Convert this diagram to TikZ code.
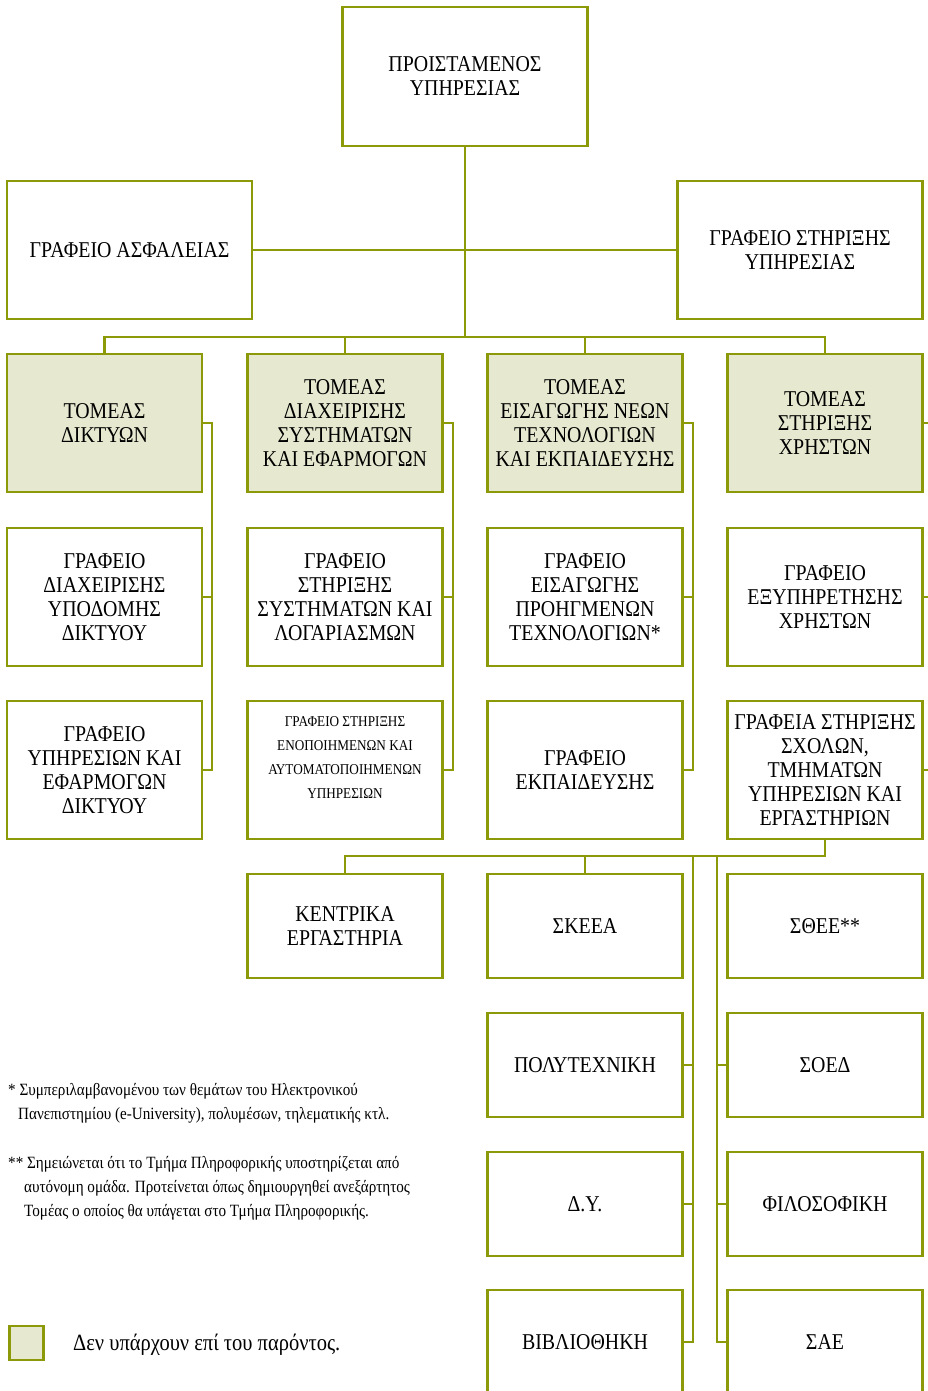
\documentclass[tikz,border=0pt]{standalone}
\usepackage{fontspec}
\setmainfont[FakeStretch=0.88]{Liberation Serif}
\definecolor{orgline}{RGB}{140,154,10}
\definecolor{orgfill}{RGB}{230,233,207}
\tikzset{
  box/.style={draw=orgline, line width=2.8pt, minimum width=195pt, minimum height=138pt,
    inner sep=0pt, align=center, text=black, font=\fontsize{22.6}{24}\selectfont,
    execute at begin node={\vspace*{5pt}}},
  wbox/.style={box, minimum width=245pt},
  tom/.style={box, fill=orgfill},
  sbox/.style={box, minimum height=104pt},
  conn/.style={draw=orgline, line width=2.6pt},
  note/.style={anchor=base west, inner sep=0pt, font=\fontsize{17.2}{24}\selectfont},
}
\begin{document}
\begin{tikzpicture}[x=1pt, y=-1pt]
\useasboundingbox (0,0) rectangle (927,1391);
% top level
\node[wbox, minimum height=139pt] (top) at (465,76.5) {ΠΡΟΙΣΤΑΜΕΝΟΣ\\ΥΠΗΡΕΣΙΑΣ};
\node[wbox] (sec) at (129.5,250) {ΓΡΑΦΕΙΟ ΑΣΦΑΛΕΙΑΣ};
\node[wbox] (sup) at (800,250) {ΓΡΑΦΕΙΟ ΣΤΗΡΙΞΗΣ\\ΥΠΗΡΕΣΙΑΣ};
% row 1 (sectors)
\node[tom] (t1) at (104.5,423) {ΤΟΜΕΑΣ\\ΔΙΚΤΥΩΝ};
\node[tom] (t2) at (345,423) {ΤΟΜΕΑΣ\\ΔΙΑΧΕΙΡΙΣΗΣ\\ΣΥΣΤΗΜΑΤΩΝ\\ΚΑΙ ΕΦΑΡΜΟΓΩΝ};
\node[tom] (t3) at (585,423) {ΤΟΜΕΑΣ\\ΕΙΣΑΓΩΓΗΣ ΝΕΩΝ\\ΤΕΧΝΟΛΟΓΙΩΝ\\ΚΑΙ ΕΚΠΑΙΔΕΥΣΗΣ};
\node[tom] (t4) at (825,423) {ΤΟΜΕΑΣ\\ΣΤΗΡΙΞΗΣ\\ΧΡΗΣΤΩΝ};
% row 2
\node[box] (r21) at (104.5,597) {ΓΡΑΦΕΙΟ\\ΔΙΑΧΕΙΡΙΣΗΣ\\ΥΠΟΔΟΜΗΣ\\ΔΙΚΤΥΟΥ};
\node[box] (r22) at (345,597) {ΓΡΑΦΕΙΟ\\ΣΤΗΡΙΞΗΣ\\ΣΥΣΤΗΜΑΤΩΝ ΚΑΙ\\ΛΟΓΑΡΙΑΣΜΩΝ};
\node[box] (r23) at (585,597) {ΓΡΑΦΕΙΟ\\ΕΙΣΑΓΩΓΗΣ\\ΠΡΟΗΓΜΕΝΩΝ\\ΤΕΧΝΟΛΟΓΙΩΝ*};
\node[box] (r24) at (825,597) {ΓΡΑΦΕΙΟ\\ΕΞΥΠΗΡΕΤΗΣΗΣ\\ΧΡΗΣΤΩΝ};
% row 3
\node[box] (r31) at (104.5,770) {ΓΡΑΦΕΙΟ\\ΥΠΗΡΕΣΙΩΝ ΚΑΙ\\ΕΦΑΡΜΟΓΩΝ\\ΔΙΚΤΥΟΥ};
\node[box, font=\fontsize{15}{24}\selectfont] (r32) at (345,770) {ΓΡΑΦΕΙΟ ΣΤΗΡΙΞΗΣ\\ΕΝΟΠΟΙΗΜΕΝΩΝ ΚΑΙ\\ΑΥΤΟΜΑΤΟΠΟΙΗΜΕΝΩΝ\\ΥΠΗΡΕΣΙΩΝ\\\mbox{}};
\node[box] (r33) at (585,770) {ΓΡΑΦΕΙΟ\\ΕΚΠΑΙΔΕΥΣΗΣ};
\node[box] (r34) at (825,770) {ΓΡΑΦΕΙΑ ΣΤΗΡΙΞΗΣ\\ΣΧΟΛΩΝ,\\ΤΜΗΜΑΤΩΝ\\ΥΠΗΡΕΣΙΩΝ ΚΑΙ\\ΕΡΓΑΣΤΗΡΙΩΝ};
% lower rows
\node[sbox] (k1) at (345,926) {ΚΕΝΤΡΙΚΑ\\ΕΡΓΑΣΤΗΡΙΑ};
\node[sbox] (k2) at (585,926) {ΣΚΕΕΑ};
\node[sbox] (k3) at (825,926) {ΣΘΕΕ**};
\node[sbox] (p1) at (585,1065) {ΠΟΛΥΤΕΧΝΙΚΗ};
\node[sbox] (p2) at (825,1065) {ΣΟΕΔ};
\node[sbox] (d1) at (585,1204) {Δ.Υ.};
\node[sbox] (d2) at (825,1204) {ΦΙΛΟΣΟΦΙΚΗ};
\node[sbox] (b1) at (585,1342) {ΒΙΒΛΙΟΘΗΚΗ};
\node[sbox] (b2) at (825,1342) {ΣΑΕ};
% junction coordinates
\coordinate (j2) at (465,337);
\coordinate (bus1) at (212,0);
\coordinate (bus2) at (453,0);
\coordinate (bus3) at (693,0);
\coordinate (bus4) at (934,0);
\coordinate (j3) at (825,856);
\coordinate (busA) at (693,856);
\coordinate (busB) at (717,856);
% connectors (top)
\draw[conn] (top.south) -- (j2);
\draw[conn] (sec.east) -- (sup.west);
\draw[conn] (t1.north) |- (j2) -| (t4.north);
\draw[conn] (t2.north) -- (t2.north |- j2);
\draw[conn] (t3.north) -- (t3.north |- j2);
% column buses
\draw[conn] (t1.east) -- (t1.east -| bus1) -- (r31.east -| bus1) -- (r31.east);
\draw[conn] (r21.east) -- (r21.east -| bus1);
\draw[conn] (t2.east) -- (t2.east -| bus2) -- (r32.east -| bus2) -- (r32.east);
\draw[conn] (r22.east) -- (r22.east -| bus2);
\draw[conn] (t3.east) -- (t3.east -| bus3) -- (r33.east -| bus3) -- (r33.east);
\draw[conn] (r23.east) -- (r23.east -| bus3);
\draw[conn] (t4.east) -- (t4.east -| bus4) -- (r34.east -| bus4) -- (r34.east);
\draw[conn] (r24.east) -- (r24.east -| bus4);
% lower connectors
\draw[conn] (r34.south) -- (j3) -| (k1.north);
\draw[conn] (k2.north) -- (k2.north |- j3);
\draw[conn] (busA) |- (b1.east);
\draw[conn] (p1.east) -- (p1.east -| busA);
\draw[conn] (d1.east) -- (d1.east -| busA);
\draw[conn] (busB) |- (b2.west);
\draw[conn] (p2.west) -- (p2.west -| busB);
\draw[conn] (d2.west) -- (d2.west -| busB);
% footnotes
\node[note] (n1a) at (8,1095) {* Συμπεριλαμβανομένου των θεμάτων του Ηλεκτρονικού};
\node[note] (n1b) at (18,1119) {Πανεπιστημίου (e-University), πολυμέσων, τηλεματικής κτλ.};
\node[note] (n2a) at (8,1168) {** Σημειώνεται ότι το Τμήμα Πληροφορικής υποστηρίζεται από};
\node[note] (n2b) at (24,1192) {αυτόνομη ομάδα. Προτείνεται όπως δημιουργηθεί ανεξάρτητος};
\node[note] (n2c) at (24,1216) {Τομέας ο οποίος θα υπάγεται στο Τμήμα Πληροφορικής.};
% legend
\node[draw=orgline, fill=orgfill, line width=2.8pt, minimum size=34pt, inner sep=0pt] (leg) at (26.5,1343) {};
\node[anchor=west, inner sep=0pt, font=\fontsize{23.3}{24}\selectfont] (legt) at (73,1345) {Δεν υπάρχουν επί του παρόντος.};
\end{tikzpicture}
\end{document}
